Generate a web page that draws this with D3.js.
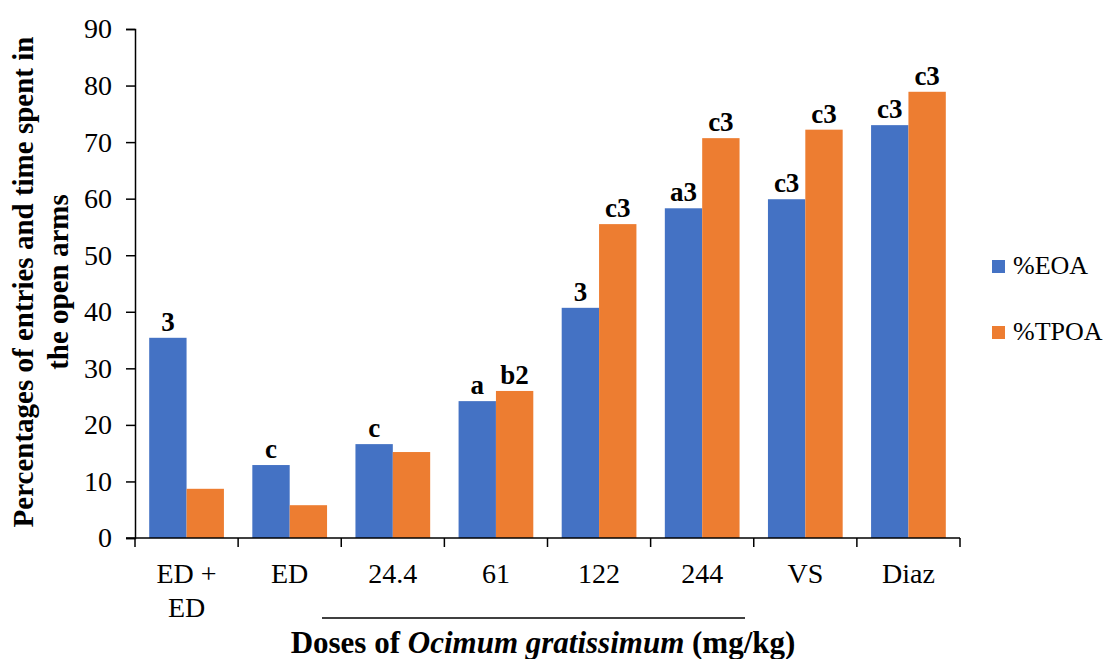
<!DOCTYPE html>
<html>
<head>
<meta charset="UTF-8">
<title>Ocimum gratissimum doses</title>
<style>
  body { margin: 0; background: #fff; }
</style>
</head>
<body>
<script src="https://d3js.org/d3.v7.min.js"></script>
<svg width="1110" height="659"></svg>
<script>
    const FONT = '"Liberation Serif", "Times New Roman", Times, "DejaVu Serif", serif';
    let svg = d3.select("svg").style("font-family", FONT);

    // chart data
    let categories = ["ED + ED", "ED", "24.4", "61", "122", "244", "VS", "Diaz"];
    let series_names = ["%EOA", "%TPOA"];
    let eoa_values = [35.4, 12.9, 16.6, 24.2, 40.7, 58.3, 59.9, 73.0];
    let tpoa_values = [8.7, 5.8, 15.2, 26.0, 55.5, 70.7, 72.2, 78.9];
    let eoa_labels = ["3", "c", "c", "a", "3", "a3", "c3", "c3"];
    let tpoa_labels = ["", "", "", "b2", "c3", "c3", "c3", "c3"];
    let y_ticks = [0, 10, 20, 30, 40, 50, 60, 70, 80, 90];
    let colors = ["#4472C4", "#ED7D31"];

    let plot_left = 135, plot_right = 960, plot_top = 29, plot_bottom = 538;

    let x = d3.scaleBand().domain(categories).range([plot_left, plot_right]).paddingInner(0).paddingOuter(0);
    let x_inner = d3.scaleBand().domain(series_names).range([0, x.bandwidth()]).paddingOuter(0.38).paddingInner(0);
    let y = d3.scaleLinear().domain([0, 90]).range([plot_bottom, plot_top]);

    let rows = categories.map((c, i) => ({
        cat: c,
        vals: [
            { key: series_names[0], v: eoa_values[i], lab: eoa_labels[i], col: colors[0] },
            { key: series_names[1], v: tpoa_values[i], lab: tpoa_labels[i], col: colors[1] }
        ]
    }));

    // bars
    let groups = svg.append("g").selectAll("g")
        .data(rows).enter().append("g")
        .attr("transform", d => "translate(" + x(d.cat) + ",0)");

    groups.selectAll("rect")
        .data(d => d.vals).enter().append("rect")
        .attr("x", d => x_inner(d.key))
        .attr("y", d => y(d.v))
        .attr("width", x_inner.bandwidth())
        .attr("height", d => y(0) - y(d.v))
        .attr("fill", d => d.col);

    // significance letters
    groups.selectAll("text.lab")
        .data(d => d.vals).enter().append("text")
        .attr("class", "lab")
        .attr("x", d => x_inner(d.key) + x_inner.bandwidth() / 2)
        .attr("y", d => y(d.v) - 7)
        .attr("text-anchor", "middle")
        .attr("font-size", 27)
        .attr("font-weight", "bold")
        .style("font-family", FONT)
        .text(d => d.lab);

    // y axis
    let y_axis = svg.append("g")
        .attr("transform", "translate(" + plot_left + ",0)")
        .call(d3.axisLeft(y).tickValues(y_ticks).tickSize(9).tickPadding(14));
    y_axis.attr("font-family", null);
    y_axis.selectAll("text").attr("font-size", 28).attr("fill", "#000")
        .style("font-family", FONT);
    y_axis.selectAll("line, path").attr("stroke", "#000").attr("stroke-width", 1.5);

    // x axis, ticks between categories
    let x_axis = svg.append("g")
        .attr("transform", "translate(0," + plot_bottom + ")");
    x_axis.append("line")
        .attr("x1", plot_left - 9).attr("x2", plot_right)
        .attr("stroke", "#000").attr("stroke-width", 1.5);
    x_axis.selectAll("line.tick")
        .data(categories.concat(["end"])).enter().append("line")
        .attr("class", "tick")
        .attr("x1", (d, i) => plot_left + i * x.bandwidth())
        .attr("x2", (d, i) => plot_left + i * x.bandwidth())
        .attr("y1", 0).attr("y2", 9)
        .attr("stroke", "#000").attr("stroke-width", 1.5);

    let cat_text = x_axis.selectAll("text.cat")
        .data(categories).enter().append("text")
        .attr("class", "cat")
        .attr("x", d => x(d) + x.bandwidth() / 2)
        .attr("y", 45)
        .attr("text-anchor", "middle")
        .attr("font-size", 28)
        .style("font-family", FONT);
    cat_text.each(function (d) {
        let t = d3.select(this);
        if (d === "ED + ED") {
            t.append("tspan").attr("x", x(d) + x.bandwidth() / 2).text("ED +");
            t.append("tspan").attr("x", x(d) + x.bandwidth() / 2).attr("dy", 34).text("ED");
        } else {
            t.text(d);
        }
    });

    // bracket line under dose groups
    svg.append("line")
        .attr("x1", 322).attr("x2", 745)
        .attr("y1", 618).attr("y2", 618)
        .attr("stroke", "#000").attr("stroke-width", 1.5);

    // x title
    let x_title = svg.append("text")
        .attr("x", 543)
        .attr("y", 653)
        .attr("text-anchor", "middle")
        .attr("font-size", 31)
        .attr("font-weight", "bold")
        .style("font-family", FONT);
    x_title.append("tspan").text("Doses of ");
    x_title.append("tspan").attr("font-style", "italic").text("Ocimum gratissimum");
    x_title.append("tspan").text(" (mg/kg)");

    // y title
    let y_title = svg.append("text")
        .attr("transform", "translate(33,282) rotate(-90)")
        .attr("text-anchor", "middle")
        .attr("font-size", 29)
        .attr("font-weight", "bold")
        .style("font-family", FONT);
    y_title.append("tspan").attr("x", 0).attr("y", 0).text("Percentages of entries and time spent in");
    y_title.append("tspan").attr("x", 0).attr("dy", 35).text("the open arms");

    // legend
    let legend = svg.append("g").selectAll("g")
        .data(series_names).enter().append("g")
        .attr("transform", (d, i) => "translate(992," + (260 + i * 66) + ")");
    legend.append("rect")
        .attr("width", 13).attr("height", 13)
        .attr("fill", (d, i) => colors[i]);
    legend.append("text")
        .attr("x", 21).attr("y", 14)
        .attr("font-size", 26)
        .style("font-family", FONT)
        .text(d => d);
</script>
</body>
</html>
